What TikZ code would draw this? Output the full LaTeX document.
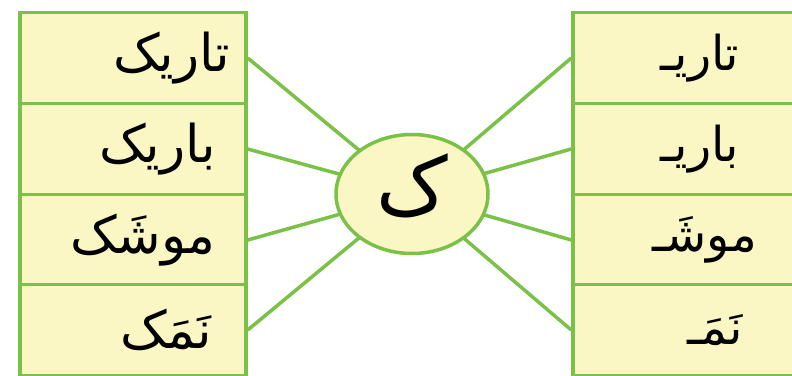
\documentclass[tikz,border=0pt]{standalone}
\usepackage{fontspec}
\usetikzlibrary{shapes.geometric}
\newfontfamily\arabicfont[Script=Arabic]{DejaVu Sans}
\TeXXeTstate=1
\definecolor{leafgreen}{RGB}{122,193,72}
\definecolor{paleyellow}{RGB}{251,247,197}

\tikzset{
  wordbox/.style={draw=leafgreen, fill=paleyellow, line width=3.5pt,
    minimum width=226pt, minimum height=91pt, inner sep=0pt},
  hub/.style={draw=leafgreen, fill=paleyellow, line width=3.5pt, ellipse,
    minimum width=152pt, minimum height=119pt, inner sep=0pt},
  spoke/.style={leafgreen, line width=3.5pt},
  urdu/.style={font=\arabicfont\fontsize{52}{56}\selectfont, inner sep=0pt},
  cut/.style={font=\arabicfont\fontsize{48}{52}\selectfont, inner sep=0pt}
}

\begin{document}
\begin{tikzpicture}[x=1pt, y={(0pt,-1pt)}]
    \useasboundingbox (0,0) rectangle (792,375);
    \clip (0,0) rectangle (792,375);

    % Whole words
    \node[wordbox] (l1) at (133,58) {};
    \node[wordbox] (l2) at (133,149) {};
    \node[wordbox] (l3) at (133,240) {};
    \node[wordbox] (l4) at (133,330) {};
    \node[urdu, anchor=east] (w1) at (230,58) {\beginR تاریک\endR};
    \node[urdu, anchor=east] (w2) at (216,149) {\beginR باریک\endR};
    \node[urdu, anchor=east] (w3) at (216,240) {\beginR موشَک\endR};
    \node[urdu, anchor=east] (w4) at (212,330) {\beginR نَمَک\endR};

    % Words without the last letter
    \node[wordbox] (r1) at (686,58) {};
    \node[wordbox] (r2) at (686,149) {};
    \node[wordbox] (r3) at (686,240) {};
    \node[wordbox] (r4) at (686,330) {};
    \node[cut] (s1) at (700,58) {\beginR تاریـ\endR};
    \node[cut] (s2) at (700,149) {\beginR باریـ\endR};
    \node[cut] (s3) at (705,240) {\beginR موشَـ\endR};
    \node[cut] (s4) at (715,330) {\beginR نَمَـ\endR};

    % Spokes
    \foreach \i in {1,...,4} {
        \draw[spoke] (l\i.east) -- (412,194);
        \draw[spoke] (412,194) -- (r\i.west);
    }

    % Letter in the middle
    \node[hub] (c) at (412,194) {};
    \node[urdu, font=\arabicfont\fontsize{80}{84}\selectfont] (k) at (412,186) {\beginR ک\endR};
\end{tikzpicture}
\end{document}
